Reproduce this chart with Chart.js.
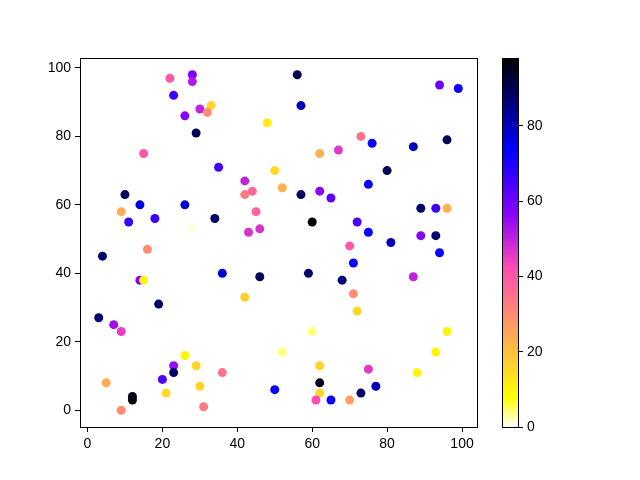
<!DOCTYPE html>
<html>
<head>
<meta charset="utf-8">
<script src="https://cdn.jsdelivr.net/npm/chart.js@4.4.1/dist/chart.umd.min.js"></script>
<style>
html,body{margin:0;padding:0;background:#fff;}
canvas{display:block;}
</style>
</head>
<body>
<canvas id="c" width="640" height="480"></canvas>
<script>
const xVals = [22,28,28,23,30,33,32,26,29,48,15,35,50,42,44,42,52,10,14,26,9,11,18,34,28,45,43,46,
  56,57,94,99,73,76,87,96,62,67,80,75,57,62,65,60,72,75,70,81,89,93,96,89,93,94,87,71,59,68,71,72,
  60,52,96,93,88,62,75,62,62,61,65,70,73,77,50,16,4,14,15,36,46,42,19,3,7,9,26,23,23,29,36,5,20,21,30,12,12,9,31];
const yVals = [97,98,96,92,88,89,87,86,81,84,75,71,70,67,64,63,65,63,60,60,58,55,56,56,53,58,52,53,
  98,89,95,94,80,78,77,79,75,76,70,66,63,64,62,55,55,52,48,49,59,59,59,51,51,46,39,43,40,38,34,29,
  23,17,23,17,11,13,12,8,5,3,3,3,5,7,6,47,45,38,38,40,39,33,31,27,25,23,16,13,11,13,11,8,9,5,7,4,3,0,1];
const cVals = [40,58,52,66,50,16,30,57,90,12,40,65,15,50,37,33,23,89,76,78,24,67,66,88,1,38,47,47,
  90,80,60,72,35,72,80,90,23,46,90,72,89,56,62,98,64,72,40,80,88,66,23,57,88,72,50,72,88,86,30,16,
  4,4,10,10,10,16,46,95,16,42,72,27,88,80,72,30,88,57,10,78,90,17,88,87,54,45,10,55,88,16,35,24,64,15,16,95,97,30,33];
const xTicks = [0,20,40,60,80,100];
const yTicks = [0,20,40,60,80,100];
const cbTicks = [0,20,40,60,80];
const cMin = 0, cMax = 98;

function clip(v){return Math.max(0,Math.min(1,v));}
function gnuplot2(x){
  const r = clip(x/0.32 - 0.78125);
  const g = clip(2*x - 0.84);
  let b;
  if (x < 0.25) b = 4*x;
  else if (x < 0.42) b = 1;
  else if (x < 0.92) b = -2*x + 1.84;
  else b = x/0.08 - 11.5;
  b = clip(b);
  return 'rgb(' + Math.round(r*255) + ',' + Math.round(g*255) + ',' + Math.round(b*255) + ')';
}
function cmapR(c){
  const n = clip((c - cMin)/(cMax - cMin));
  return gnuplot2(1 - n);
}

const pts = xVals.map((x,i)=>({x:x, y:yVals[i]}));
const colors = cVals.map(cmapR);
const font = {family:'"Liberation Sans", Arial, sans-serif', size:14};

const framePlugin = {
  id:'frame',
  afterDraw(chart){
    const ctx = chart.ctx, a = chart.chartArea;
    ctx.save();
    ctx.strokeStyle = '#000';
    ctx.lineWidth = 1;
    ctx.strokeRect(Math.round(a.left)+0.5, Math.round(a.top)+0.5, Math.round(a.right-a.left), Math.round(a.bottom-a.top));
    const cb = chart.scales.cb;
    const right = Math.round(cb.left), left = right - 16;
    const top = Math.round(cb.top), bottom = Math.round(cb.bottom);
    const grad = ctx.createLinearGradient(0, bottom, 0, top);
    for (let i=0;i<=100;i++){
      const c = cMin + (cMax-cMin)*i/100;
      grad.addColorStop(i/100, cmapR(c));
    }
    ctx.fillStyle = grad;
    ctx.fillRect(left, top, right-left, bottom-top);
    ctx.strokeRect(left+0.5, top+0.5, right-left, bottom-top);
    ctx.restore();
  }
};

new Chart(document.getElementById('c'), {
  type:'scatter',
  data:{datasets:[{
    data:pts,
    backgroundColor:colors,
    pointBackgroundColor:colors,
    pointBorderWidth:0,
    borderWidth:0,
    pointRadius:4.5,
    pointHoverRadius:4.5
  }]},
  options:{
    responsive:false,
    animation:false,
    devicePixelRatio:1,
    layout:{padding:{top:58,left:0,right:0,bottom:0}},
    plugins:{legend:{display:false}, tooltip:{enabled:false}},
    scales:{
      x:{
        type:'linear', position:'bottom', min:-2, max:104,
        afterBuildTicks(s){ s.ticks = xTicks.map(v=>({value:v})); },
        afterFit(s){ s.height = 53; },
        grid:{display:true, drawOnChartArea:false, drawTicks:true, tickLength:5, tickColor:'#000', tickWidth:1},
        border:{display:true, color:'#000', width:1},
        ticks:{color:'#000', font:font, padding:4, maxRotation:0}
      },
      y:{
        type:'linear', position:'left', min:-4.9, max:102.9,
        afterBuildTicks(s){ s.ticks = yTicks.map(v=>({value:v})); },
        afterFit(s){ s.width = 80; },
        grid:{display:true, drawOnChartArea:false, drawTicks:true, tickLength:5, tickColor:'#000', tickWidth:1},
        border:{display:true, color:'#000', width:1},
        ticks:{color:'#000', font:font, padding:4}
      },
      spacer:{
        type:'linear', position:'right', weight:0, min:0, max:1,
        afterFit(s){ s.width = 41; },
        grid:{display:false, drawTicks:false},
        border:{display:false},
        ticks:{display:false}
      },
      cb:{
        type:'linear', position:'right', weight:1, min:cMin, max:cMax,
        afterBuildTicks(s){ s.ticks = cbTicks.map(v=>({value:v})); },
        afterFit(s){ s.width = 122; },
        grid:{display:true, drawOnChartArea:false, drawTicks:true, tickLength:5, tickColor:'#000', tickWidth:1},
        border:{display:false},
        ticks:{color:'#000', font:font, padding:4}
      }
    }
  },
  plugins:[framePlugin]
});
</script>
</body>
</html>
